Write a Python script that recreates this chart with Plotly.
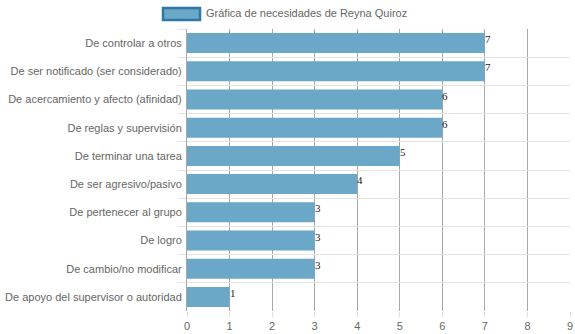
import plotly.graph_objects as go

# Necesidades y puntajes
categorias = [
    "De controlar a otros",
    "De ser notificado (ser considerado)",
    "De acercamiento y afecto (afinidad)",
    "De reglas y supervisión",
    "De terminar una tarea",
    "De ser agresivo/pasivo",
    "De pertenecer al grupo",
    "De logro",
    "De cambio/no modificar",
    "De apoyo del supervisor o autoridad",
]
valores = [7, 7, 6, 6, 5, 4, 3, 3, 3, 1]
serie = "Gráfica de necesidades de Reyna Quiroz"
ticks_x = [0, 1, 2, 3, 4, 5, 6, 7, 8, 9]

color_barra = "#6ba7c6"
color_borde = "#2e78a8"

fig = go.Figure(
    go.Bar(
        x=valores,
        y=categorias,
        orientation="h",
        marker=dict(color=color_barra, line=dict(width=0)),
        name=serie,
        showlegend=False,
        hoverinfo="skip",
    )
)

# Valor junto al extremo de cada barra
for cat, v in zip(categorias, valores):
    fig.add_annotation(
        x=v, y=cat,
        xref="x", yref="y",
        text=str(v),
        showarrow=False,
        xanchor="left", yanchor="middle",
        xshift=-2, yshift=4,
        font=dict(family="Liberation Serif", size=11, color="#222"),
    )

fig.update_layout(
    width=575,
    height=334,
    margin=dict(l=187, r=5, t=29, b=23),
    paper_bgcolor="white",
    plot_bgcolor="white",
    bargap=0.29,
    font=dict(family="Liberation Sans", size=11, color="#666"),
    xaxis=dict(
        range=[0, 9],
        tickvals=ticks_x,
        showgrid=True,
        gridcolor="#a8a8a8",
        gridwidth=1,
        zeroline=False,
        showline=False,
        ticks="outside",
        ticklen=5,
        tickcolor="#dddddd",
        tickfont=dict(size=11, color="#666"),
        automargin=False,
        fixedrange=True,
    ),
    yaxis=dict(
        categoryorder="array",
        categoryarray=categorias,
        autorange="reversed",
        tickson="boundaries",
        showgrid=True,
        gridcolor="#e3e3e3",
        gridwidth=1,
        ticks="outside",
        ticklen=8,
        tickcolor="#e3e3e3",
        showline=True,
        linecolor="#a8a8a8",
        linewidth=1,
        zeroline=False,
        tickfont=dict(size=11, color="#666"),
        ticklabelstandoff=2,
        automargin=False,
        fixedrange=True,
    ),
)

# Leyenda: muestra de color y nombre de la serie
fig.add_shape(
    type="rect",
    xref="paper", yref="paper",
    x0=(163 - 187) / 383, x1=(200 - 187) / 383,
    y0=(311 - 20) / 282, y1=(311 - 8) / 282,
    fillcolor=color_barra,
    line=dict(color=color_borde, width=2.5),
)
fig.add_annotation(
    xref="paper", yref="paper",
    x=(204 - 187) / 383, y=(311 - 13.5) / 282,
    xanchor="left", yanchor="middle",
    text=serie,
    showarrow=False,
    font=dict(family="Liberation Sans", size=11, color="#666"),
)

fig.write_html("out.html")
